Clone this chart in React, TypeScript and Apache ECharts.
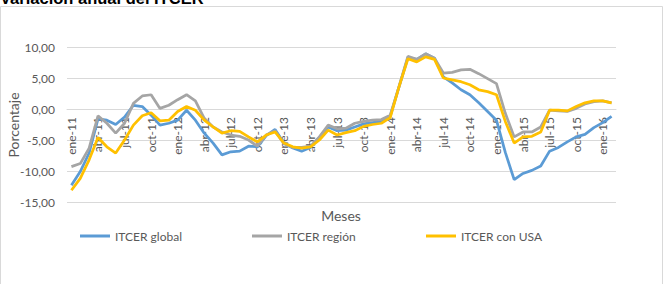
import React, { useEffect, useRef } from "react";
import * as echarts from "echarts";

const monthNames = ["ene", "feb", "mar", "abr", "may", "jun", "jul", "ago", "sep", "oct", "nov", "dic"];
const years = ["11", "12", "13", "14", "15", "16"];
const categories: string[] = [];
for (const y of years) {
  for (const m of monthNames) {
    categories.push(`${m}-${y}`);
  }
}
const cats = categories.slice(0, 62);

const itcerGlobal = [
  -12.3, -10.1, -7.1, -1.6, -1.8, -2.5, -1.3, 0.6, 0.4, -1.0, -2.6, -2.3,
  -1.8, -0.2, -1.8, -3.9, -5.5, -7.4, -6.9, -6.8, -6.0, -6.1, -4.3, -3.3,
  -5.5, -6.3, -6.8, -6.2, -4.6, -2.9, -3.5, -3.4, -2.9, -2.4, -2.2, -2.0,
  -1.2, 3.6, 8.3, 8.0, 8.9, 8.2, 5.2, 4.2, 3.1, 2.3, 1.0, -0.4,
  -1.8, -7.0, -11.4, -10.4, -9.9, -9.2, -6.8, -6.2, -5.3, -4.5, -4.1, -3.0,
  -2.2, -1.2,
];
const itcerRegion = [
  -9.3, -8.8, -6.3, -1.1, -2.3, -3.9, -2.3, 0.9, 2.1, 2.3, 0.1, 0.6,
  1.5, 2.3, 1.3, -1.5, -2.9, -3.7, -4.2, -4.4, -5.0, -6.0, -4.2, -3.5,
  -5.6, -6.2, -6.2, -6.0, -4.5, -2.6, -3.2, -3.1, -2.3, -2.0, -1.8, -1.7,
  -1.0, 3.6, 8.5, 8.0, 8.9, 8.2, 5.8, 5.9, 6.3, 6.4, 5.7, 4.9,
  4.1, -0.7, -4.5, -3.7, -3.7, -2.9, -0.2, -0.3, -0.4, 0.1, 0.8, 1.2,
  1.3, 1.0,
];
const itcerUsa = [
  -13.1, -11.2, -8.2, -4.6, -6.1, -7.1, -5.0, -2.6, -1.1, -0.6, -1.9, -1.8,
  -0.4, 0.4, -0.2, -1.8, -2.9, -3.9, -3.5, -3.6, -4.5, -5.3, -4.2, -3.7,
  -5.5, -6.1, -6.3, -6.1, -5.0, -3.4, -4.2, -3.8, -3.5, -2.8, -2.5, -2.3,
  -1.4, 3.6, 8.1, 7.6, 8.4, 8.0, 5.0, 4.7, 4.4, 3.9, 3.1, 2.8,
  2.3, -2.0, -5.5, -4.5, -4.4, -3.7, -0.2, -0.2, -0.3, 0.4, 1.0, 1.3,
  1.3, 1.0,
];

const seriesNames = ["ITCER global", "ITCER región", "ITCER con USA"];
const seriesColors = ["#5B9BD5", "#A5A5A5", "#FFC000"];

const FONT = "Lato";
const TEXT_COLOR = "#595959";

export default function App() {
  const ref = useRef<HTMLDivElement>(null);
  useEffect(() => {
    if (!ref.current) return;
    const chart = echarts.init(ref.current, undefined, { renderer: "svg" });
    const dataSets = [itcerGlobal, itcerRegion, itcerUsa];
    const legendLefts = [80, 252, 426];
    chart.setOption({
      animation: false,
      backgroundColor: "#ffffff",
      grid: { left: 67, right: 50, top: 47, bottom: 82, containLabel: false },
      xAxis: {
        type: "category",
        data: cats,
        boundaryGap: true,
        position: "bottom",
        offset: -93,
        axisLine: { show: true, onZero: false, lineStyle: { color: "#D9D9D9", width: 1 } },
        axisTick: { show: false },
        axisLabel: {
          interval: 2,
          rotate: 90,
          margin: 8,
          color: TEXT_COLOR,
          fontFamily: FONT,
          fontSize: 12,
          hideOverlap: false,
        },
        splitLine: { show: false },
      },
      yAxis: {
        type: "value",
        min: -15,
        max: 10,
        interval: 5,
        axisLine: { show: false },
        axisTick: { show: false },
        axisLabel: {
          margin: 12,
          color: TEXT_COLOR,
          fontFamily: FONT,
          fontSize: 12,
          formatter: (v: number) => v.toFixed(2).replace(".", ","),
        },
        splitLine: { show: true, lineStyle: { color: "#D9D9D9", width: 1 } },
      },
      legend: seriesNames.map((name, i) => ({
        show: true,
        data: [name],
        left: legendLefts[i],
        top: 230,
        padding: 0,
        icon: "rect",
        itemWidth: 30,
        itemHeight: 3,
        textStyle: { color: TEXT_COLOR, fontFamily: FONT, fontSize: 12 },
      })),
      series: seriesNames.map((name, i) => ({
        name,
        type: "line",
        data: dataSets[i],
        showSymbol: false,
        symbol: "none",
        lineStyle: { color: seriesColors[i], width: 2.75 },
        itemStyle: { color: seriesColors[i] },
        z: 2 + i,
      })),
      graphic: [
        {
          type: "rect",
          shape: { x: 0.5, y: 6.5, width: 662, height: 290 },
          style: { fill: "none", stroke: "#D9D9D9", lineWidth: 1 },
          silent: true,
          z: -1,
        },
        {
          type: "text",
          x: 0,
          y: -2.5,
          style: {
            text: "Variación anual del ITCER",
            fill: "#000000",
            font: "bold 16.5px 'Liberation Sans', Arial, sans-serif",
            align: "left",
            verticalAlign: "middle",
          },
        },
        {
          type: "text",
          x: 13,
          y: 125,
          rotation: Math.PI / 2,
          style: {
            text: "Porcentaje",
            fill: TEXT_COLOR,
            fontFamily: FONT,
            fontSize: 14,
            align: "center",
            verticalAlign: "middle",
          },
        },
        {
          type: "text",
          x: 341,
          y: 215,
          style: {
            text: "Meses",
            fill: TEXT_COLOR,
            fontFamily: FONT,
            fontSize: 14,
            align: "center",
            verticalAlign: "middle",
          },
        },
      ],
    });
    return () => chart.dispose();
  }, []);
  return (
    <div
      ref={ref}
      style={{ position: "absolute", left: 0, top: 0, width: 666, height: 284 }}
    />
  );
}
